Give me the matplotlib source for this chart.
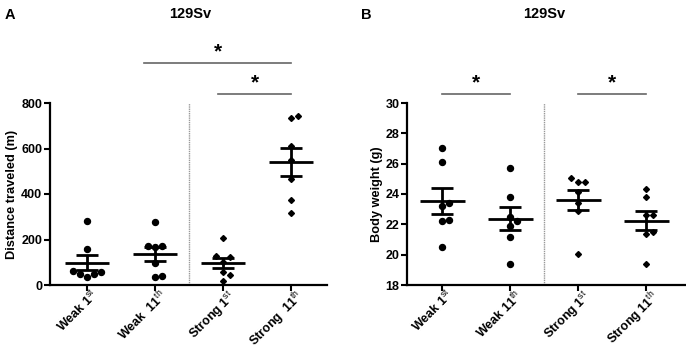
import numpy as np
import matplotlib.pyplot as plt
import matplotlib.transforms as mtrans

plt.rcParams['font.family'] = ['Liberation Sans', 'DejaVu Sans']
plt.rcParams['mathtext.fontset'] = 'custom'
plt.rcParams['mathtext.rm'] = 'Liberation Sans'
plt.rcParams['mathtext.bf'] = 'Liberation Sans:bold'

# group labels
labels_a = [r"Weak 1$^{\mathrm{st}}$", r"Weak  11$^{\mathrm{th}}$",
            r"Strong 1$^{\mathrm{st}}$", r"Strong  11$^{\mathrm{th}}$"]
labels_b = [r"Weak 1$^{\mathrm{st}}$", r"Weak 11$^{\mathrm{th}}$",
            r"Strong 1$^{\mathrm{st}}$", r"Strong 11$^{\mathrm{th}}$"]

# individual animals
distance = [
    [280, 160, 63, 48, 34, 48, 59],
    [275, 171, 171, 168, 95, 37, 41],
    [205, 127, 122, 103, 56, 44, 18],
    [743, 733, 611, 548, 464, 372, 318],
]
weight = [
    [27.04, 26.11, 23.39, 23.19, 22.29, 22.20, 20.48],
    [25.73, 23.81, 22.49, 22.20, 21.90, 21.16, 19.37],
    [25.05, 24.81, 24.81, 24.12, 23.41, 22.90, 20.06],
    [24.30, 23.81, 22.60, 22.60, 21.49, 21.38, 19.37],
]
markers = ['o', 'o', 'D', 'D']

# significance brackets: (x start, x end)
sig_a = [(0.84, 3.0), (1.93, 3.0)]
sig_b = [(0.0, 1.0), (2.0, 3.0)]


def swarm(ax, x0, vals, gap=7.0):
    # simple beeswarm in pixel space
    pts = ax.transData.transform([(x0, v) for v in vals])
    order = np.argsort(vals)
    placed = []
    out = [None] * len(vals)
    for idx in order:
        px, py = pts[idx]
        k = 0
        done = False
        while not done:
            cands = [0] if k == 0 else [k, -k]
            for c in cands:
                cx = px + c * gap
                if all(np.hypot(cx - qx, py - qy) >= gap for qx, qy in placed):
                    placed.append((cx, py))
                    out[idx] = ax.transData.inverted().transform((cx, py))[0]
                    done = True
                    break
            k += 1
    return out


def panel(ax, data, labels, ylim, yticks, ylabel, xlim):
    ax.set_xlim(*xlim)
    ax.set_ylim(*ylim)
    for s in ['top', 'right']:
        ax.spines[s].set_visible(False)
    for s in ['left', 'bottom']:
        ax.spines[s].set_linewidth(1.6)
    ax.set_yticks(yticks)
    ax.set_xticks(range(4))
    ax.set_xticklabels(labels, rotation=45, ha='right', rotation_mode='anchor',
                       fontweight='bold', fontsize=8.7)
    ax.tick_params(width=1.5, length=4, labelsize=9, pad=1.5)
    shift = mtrans.ScaledTranslation(4 / 100, 5 / 100, fig.dpi_scale_trans)
    for t in ax.get_xticklabels():
        t.set_transform(t.get_transform() + shift)
    for t in ax.get_yticklabels():
        t.set_fontweight('bold')
    ax.set_ylabel(ylabel, fontweight='bold', fontsize=9.2, labelpad=2)
    ax.axvline(1.5, color='#999999', lw=1, ls=(0, (1, 0.6)))

    for i, vals in enumerate(data):
        xs = swarm(ax, i, vals)
        ms = 4.3 if markers[i] == 'o' else 3.0
        ax.plot(xs, vals, ls='none', marker=markers[i], color='black',
                markersize=ms, zorder=3)
        m = np.mean(vals)
        sem = np.std(vals, ddof=1) / np.sqrt(len(vals))
        ax.hlines(m, i - 0.33, i + 0.33, color='black', lw=2, zorder=4)
        ax.errorbar(i, m, yerr=sem, fmt='none', ecolor='black', elinewidth=2,
                    capsize=8, capthick=2, zorder=4)


fig = plt.figure(figsize=(6.86, 3.5), dpi=100)
ax_a = fig.add_axes([50 / 686, 1 - 285 / 350, 277 / 686, 182 / 350])
ax_b = fig.add_axes([407 / 686, 1 - 285 / 350, 278 / 686, 182 / 350])

panel(ax_a, distance, labels_a, (0, 800), [0, 200, 400, 600, 800],
      "Distance traveled (m)", (-0.544, 3.53))
panel(ax_b, weight, labels_b, (18, 30), [18, 20, 22, 24, 26, 28, 30],
      "Body weight (g)", (-0.515, 3.57))

# brackets
for (x1, x2), y in zip(sig_a, [976, 840]):
    ax_a.plot([x1, x2], [y, y], color='#666666', lw=1.2, clip_on=False)
    ax_a.text((x1 + x2) / 2, y + 5, "*", ha='center', va='bottom',
              fontsize=15, fontweight='bold')
for x1, x2 in sig_b:
    y = 30.59
    ax_b.plot([x1, x2], [y, y], color='#666666', lw=1.2, clip_on=False)
    ax_b.text((x1 + x2) / 2, y + 0.08, "*", ha='center', va='bottom',
              fontsize=15, fontweight='bold')

fig.text(190 / 686, 1 - 14 / 350, "129Sv", ha='center', va='center',
         fontsize=10.5, fontweight='bold')
fig.text(544 / 686, 1 - 14 / 350, "129Sv", ha='center', va='center',
         fontsize=10.5, fontweight='bold')
fig.text(5 / 686, 1 - 15 / 350, "A", ha='left', va='center',
         fontsize=10.5, fontweight='bold')
fig.text(361 / 686, 1 - 15 / 350, "B", ha='left', va='center',
         fontsize=10.5, fontweight='bold')

fig.savefig("out.png", dpi=100)
